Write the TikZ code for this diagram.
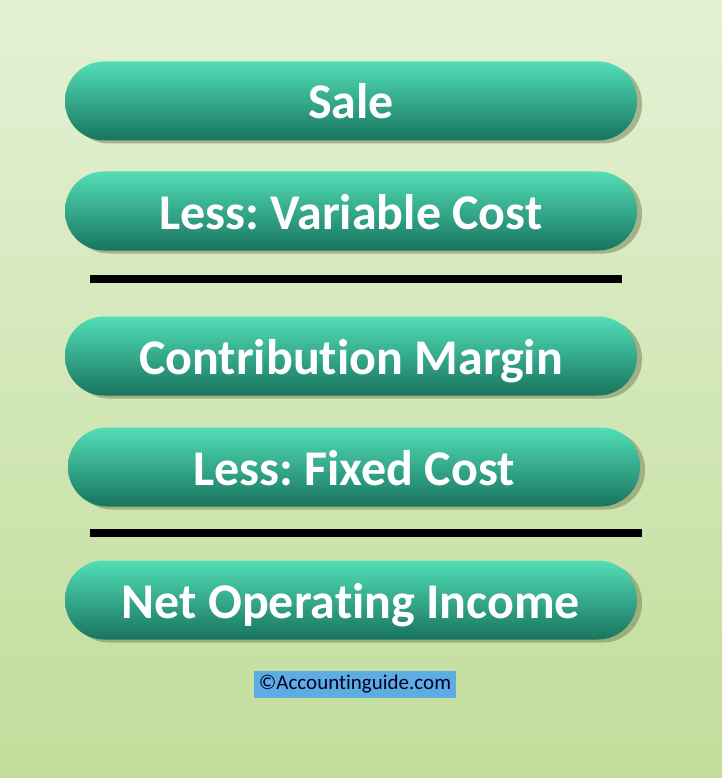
\documentclass[tikz,border=0pt]{standalone}
\usepackage{fontspec}
\setmainfont{Carlito}[RawFeature=-liga]
\usetikzlibrary{shadows}
\definecolor{BgTop}{HTML}{E4F1D5}
\definecolor{BgBot}{HTML}{C1DD9A}
\definecolor{PillTop}{HTML}{52DEB7}
\definecolor{PillBot}{HTML}{18745F}
\definecolor{ShadowCol}{HTML}{7F8F5E}
\definecolor{CopyBox}{HTML}{5DADE3}
\frenchspacing

\begin{document}
\begin{tikzpicture}[x=1pt, y=-1pt,
  pill/.style={rectangle, rounded corners=39pt, minimum width=572pt, minimum height=79pt,
    top color=PillTop, bottom color=PillBot, text=white, inner sep=0pt,
    text height=36pt, text depth=0pt,
    font=\fontsize{50}{50}\selectfont\bfseries,
    drop shadow={shadow xshift=5pt, shadow yshift=-3pt, fill=ShadowCol, opacity=0.6}},
  rule/.style={line width=8pt}]

 %%%%%%%%%% Fond %%%%%%%%%%
 \shade [top color=BgTop, bottom color=BgBot] (0,0) rectangle (722,778) ;
 \useasboundingbox (0,0) rectangle (722,778) ;

 %%%%%%%%%% Points pour travailler %%%%%%%%%%
 \coordinate (r1a) at (90,279) ;
 \coordinate (r1b) at (622,279) ;
 \coordinate (r2a) at (90,533) ;
 \coordinate (r2b) at (642,533) ;

 %%%%%%%%%%% Les boutons %%%%%%%%%%%
 \node [pill] (sale) at (351,101) {Sale} ;
 \node [pill] (varcost) at (351,211) {Less: Variable Cost} ;
 \node [pill] (margin) at (351,356) {Contribution Margin} ;
 \node [pill] (fixcost) at (354,467) {Less: Fixed Cost} ;
 \node [pill] (income) at (351,600) {Net Operating Income} ;

 %%%%%%%%%%% Les traits %%%%%%%%%%%
 \draw [rule] (r1a) -- (r1b) ;
 \draw [rule] (r2a) -- (r2b) ;

 %%%%%%%%%%% Copyright %%%%%%%%%%%
 \node [fill=CopyBox, text=black!85!blue, minimum width=202pt, minimum height=27pt, inner sep=0pt,
   font=\fontsize{21}{21}\selectfont] (copy) at (355,684) {\textcopyright Accountinguide.com} ;

\end{tikzpicture}
\end{document}
